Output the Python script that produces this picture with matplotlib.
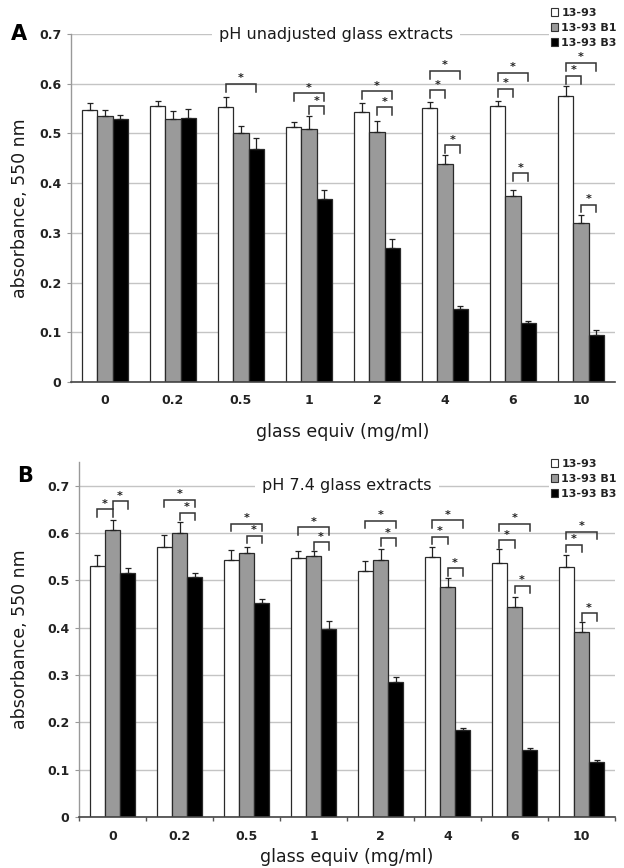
import matplotlib
matplotlib.use('Agg')
import matplotlib.pyplot as plt
from matplotlib.patches import Patch
import numpy as np

plt.rcParams['font.family'] = ['DejaVu Sans']

categories = ['0', '0.2', '0.5', '1', '2', '4', '6', '10']
series = ['13-93', '13-93 B1', '13-93 B3']

# Panel A: pH unadjusted glass extracts
a_1393 = [0.547, 0.555, 0.554, 0.513, 0.544, 0.551, 0.556, 0.576]
a_1393_err = [0.014, 0.010, 0.020, 0.010, 0.017, 0.013, 0.009, 0.020]
a_b1 = [0.535, 0.530, 0.500, 0.509, 0.502, 0.438, 0.375, 0.320]
a_b1_err = [0.012, 0.016, 0.015, 0.027, 0.023, 0.018, 0.011, 0.015]
a_b3 = [0.529, 0.531, 0.468, 0.369, 0.270, 0.146, 0.119, 0.095]
a_b3_err = [0.008, 0.019, 0.022, 0.018, 0.018, 0.007, 0.004, 0.010]

# Panel B: pH 7.4 glass extracts
b_1393 = [0.531, 0.570, 0.542, 0.547, 0.519, 0.549, 0.537, 0.528]
b_1393_err = [0.023, 0.026, 0.023, 0.014, 0.021, 0.021, 0.029, 0.026]
b_b1 = [0.607, 0.600, 0.558, 0.551, 0.543, 0.486, 0.443, 0.391]
b_b1_err = [0.020, 0.024, 0.012, 0.010, 0.023, 0.018, 0.021, 0.021]
b_b3 = [0.516, 0.508, 0.453, 0.398, 0.285, 0.184, 0.142, 0.117]
b_b3_err = [0.010, 0.007, 0.008, 0.017, 0.010, 0.003, 0.003, 0.004]

# significance brackets: (category index, series i, series j, bracket level)
a_sig = [(2, 0, 2, 0.600), (3, 0, 2, 0.581), (3, 1, 2, 0.555),
         (4, 0, 2, 0.585), (4, 1, 2, 0.553),
         (5, 0, 2, 0.626), (5, 0, 1, 0.587), (5, 1, 2, 0.476),
         (6, 0, 2, 0.622), (6, 0, 1, 0.590), (6, 1, 2, 0.420),
         (7, 0, 2, 0.642), (7, 0, 1, 0.616), (7, 1, 2, 0.357)]
b_sig = [(0, 0, 1, 0.650), (0, 1, 2, 0.667),
         (1, 0, 2, 0.670), (1, 1, 2, 0.643),
         (2, 0, 2, 0.620), (2, 1, 2, 0.594),
         (3, 0, 2, 0.612), (3, 1, 2, 0.580),
         (4, 0, 2, 0.626), (4, 1, 2, 0.589),
         (5, 0, 2, 0.627), (5, 0, 1, 0.592), (5, 1, 2, 0.526),
         (6, 0, 2, 0.620), (6, 0, 1, 0.585), (6, 1, 2, 0.489),
         (7, 0, 2, 0.603), (7, 0, 1, 0.575), (7, 1, 2, 0.431)]

colors = ['white', '#9a9a9a', 'black']
edge = '#2a2a2a'
W = 624 / 100
H = 868 / 100

fig = plt.figure(figsize=(W, H), dpi=100)


def px_rect(l, t, r, b):
    return [l / 624, 1 - b / 868, (r - l) / 624, (b - t) / 868]


def rect_to_px(rect):
    # vertical centre of the axes, in pixels from top
    return (1 - (rect[1] + rect[3] / 2)) * 868


def panel(rect, vals, errs, sig, ymax, title, title_xf, letter, letter_xy,
          xticks_marks, leg_y, xlabel_y):
    ax = fig.add_axes(rect)
    x = np.arange(len(categories))
    w = 0.225
    for k, (v, e) in enumerate(zip(vals, errs)):
        pos = x + (k - 1) * w
        ax.bar(pos, v, width=w, color=colors[k], edgecolor=edge, linewidth=0.9,
               zorder=2)
        ax.errorbar(pos, v, yerr=[np.zeros(len(e)), e], fmt='none',
                    ecolor='#222222', elinewidth=0.9, capsize=2.2,
                    capthick=0.9, zorder=3)
    arm = 0.016
    for (c, i, j, h) in sig:
        x0 = c + (i - 1) * w
        x1 = c + (j - 1) * w
        ax.plot([x0, x0, x1, x1], [h - arm, h, h, h - arm], color='#333333',
                lw=1.1, zorder=4, solid_joinstyle='miter')
        ax.text((x0 + x1) / 2, h + 0.001, '*', ha='center', va='bottom',
                fontsize=8, fontweight='bold', color='#222222', zorder=4)
    ax.set_xlim(-0.5, len(categories) - 0.5)
    ax.set_ylim(0, ymax)
    ax.set_yticks(np.arange(0, 0.71, 0.1))
    ax.set_yticklabels(['0'] + ['%.1f' % t for t in np.arange(0.1, 0.71, 0.1)],
                       fontsize=9, fontweight='bold', color='#222222')
    ax.yaxis.grid(True, color='#c4c4c4', lw=1.0, zorder=0)
    ax.set_axisbelow(True)
    ax.set_xticks(x)
    ax.set_xticklabels(categories, fontsize=9, fontweight='bold', color='#222222')
    ax.tick_params(axis='x', length=0, pad=9)
    ax.tick_params(axis='y', length=3, color='#999999', pad=4)
    if xticks_marks:
        ax.set_xticks(np.arange(-0.5, len(categories)), minor=True)
        ax.tick_params(axis='x', which='minor', length=3, color='#555555',
                       width=1)
    for s in ['top', 'right']:
        ax.spines[s].set_visible(False)
    ax.spines['left'].set_color('#999999')
    ax.spines['left'].set_linewidth(1.0)
    ax.spines['bottom'].set_color('#444444')
    ax.spines['bottom'].set_linewidth(1.2)
    ax.text(title_xf, 0.7, title, transform=ax.get_yaxis_transform(),
            ha='center', va='center', fontsize=11.5, color='#1a1a1a',
            bbox=dict(facecolor='white', edgecolor='none', pad=5), zorder=5)
    # legend
    handles = [Patch(facecolor=colors[k], edgecolor='#333333', linewidth=0.8)
               for k in range(3)]
    leg = fig.legend(handles, series, loc='upper left',
                     bbox_to_anchor=(549 / 624, 1 - leg_y / 868),
                     frameon=True, fontsize=8, handlelength=0.7,
                     handleheight=0.7, handletextpad=0.25, labelspacing=0.45,
                     borderpad=0.15, borderaxespad=0)
    leg.get_frame().set_facecolor('white')
    leg.get_frame().set_edgecolor('none')
    leg.get_frame().set_alpha(1)
    for t in leg.get_texts():
        t.set_fontweight('bold')
        t.set_color('#222222')
    fig.text(letter_xy[0] / 624, 1 - letter_xy[1] / 868, letter,
             fontsize=15, fontweight='bold', ha='center', va='center')
    fig.text(20 / 624, 1 - ((rect_to_px(rect)) / 868), 'absorbance, 550 nm',
             rotation=90, ha='center', va='center', fontsize=12.5,
             color='#1a1a1a')
    fig.text((rect[0] + rect[2] / 2), 1 - xlabel_y / 868,
             'glass equiv (mg/ml)', ha='center', va='center', fontsize=12.5,
             color='#1a1a1a')
    return ax


panel(px_rect(71, 34, 615, 382), [a_1393, a_b1, a_b3],
      [a_1393_err, a_b1_err, a_b3_err], a_sig, 0.7,
      'pH unadjusted glass extracts', 0.487, 'A', (19, 34), False, 6, 432)
panel(px_rect(79, 462, 615, 817), [b_1393, b_b1, b_b3],
      [b_1393_err, b_b1_err, b_b3_err], b_sig, 0.75,
      'pH 7.4 glass extracts', 0.50, 'B', (25, 476), True, 457, 857)

fig.savefig('out.png', dpi=100)
